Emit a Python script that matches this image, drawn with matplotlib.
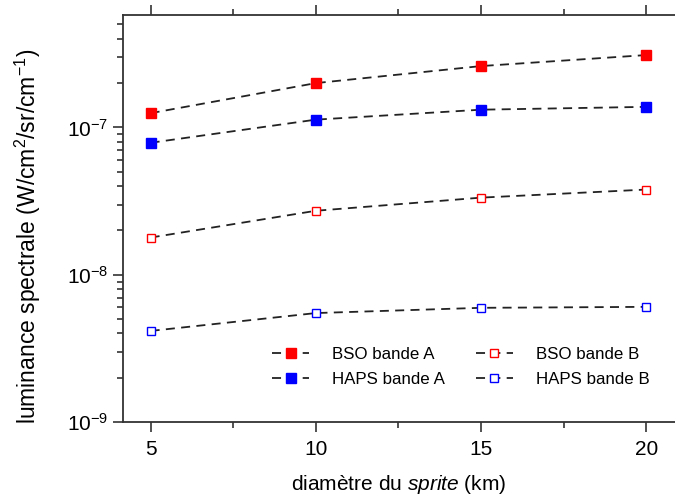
import numpy as np
import matplotlib.pyplot as plt
from matplotlib.ticker import LogLocator, FixedLocator, NullFormatter, FuncFormatter

plt.rcParams['font.family'] = ['Liberation Sans', 'DejaVu Sans']
plt.rcParams['mathtext.fontset'] = 'custom'
plt.rcParams['mathtext.rm'] = 'Liberation Sans'
plt.rcParams['mathtext.it'] = 'Liberation Sans:italic'

diametre = [5, 10, 15, 20]  # km
bso_a = [1.25e-7, 2.0e-7, 2.61e-7, 3.1e-7]
haps_a = [7.87e-8, 1.13e-7, 1.32e-7, 1.38e-7]
bso_b = [1.79e-8, 2.72e-8, 3.34e-8, 3.79e-8]
haps_b = [4.16e-9, 5.5e-9, 5.97e-9, 6.06e-9]

fig = plt.figure(figsize=(6.75, 4.99), dpi=100)
ax = fig.add_axes([0.182, 0.154, 0.818, 0.816])

dash = dict(color='#222222', ls=(0, (5, 3.5)), lw=1.3)
ax.plot(diametre, bso_a, marker='s', ms=7, mfc='#ff0000', mec='#ff0000', label='BSO bande A', **dash)
ax.plot(diametre, haps_a, marker='s', ms=7, mfc='#0000ff', mec='#0000ff', label='HAPS bande A', **dash)
ax.plot(diametre, bso_b, marker='s', ms=6, mfc='white', mec='#ff0000', mew=1.0, label='BSO bande B', **dash)
ax.plot(diametre, haps_b, marker='s', ms=6, mfc='white', mec='#0000ff', mew=1.0, label='HAPS bande B', **dash)

ax.set_yscale('log')
ax.set_ylim(1e-9, 5.8e-7)
ax.set_xlim(4.16, 20.87)
ax.set_xticks([5, 10, 15, 20])
ax.xaxis.set_minor_locator(FixedLocator([7.5, 12.5, 17.5]))
ax.yaxis.set_major_locator(LogLocator(base=10, numticks=10))
ax.yaxis.set_major_formatter(FuncFormatter(lambda v, p: '$10^{%d}$' % round(np.log10(v))))
ax.yaxis.set_minor_locator(LogLocator(base=10, subs=np.arange(2, 10), numticks=20))
ax.yaxis.set_minor_formatter(NullFormatter())

for s in ['left', 'bottom', 'top']:
    ax.spines[s].set_linewidth(1.3)
    ax.spines[s].set_color('#333333')
ax.spines['right'].set_visible(False)

ax.tick_params(which='both', direction='out', color='#333333', width=1.2, labelsize=15, top=True)
ax.tick_params(which='major', length=7)
ax.tick_params(which='minor', length=4)
ax.tick_params(axis='x', pad=6)

ax.set_xlabel('diamètre du $\\it{sprite}$ (km)', fontsize=15, labelpad=10)
ax.set_ylabel('luminance spectrale (W/cm$^2$/sr/cm$^{-1}$)', fontsize=16.5)
ax.yaxis.set_label_coords(-0.145, 0.455)

ax.legend(loc='upper left', bbox_to_anchor=(0.255, 0.205), ncol=2, frameon=False,
          fontsize=12.2, handlelength=2.2, handletextpad=1.35, columnspacing=1.8,
          labelspacing=0.6, borderpad=0)

fig.savefig('out.png', dpi=100)
